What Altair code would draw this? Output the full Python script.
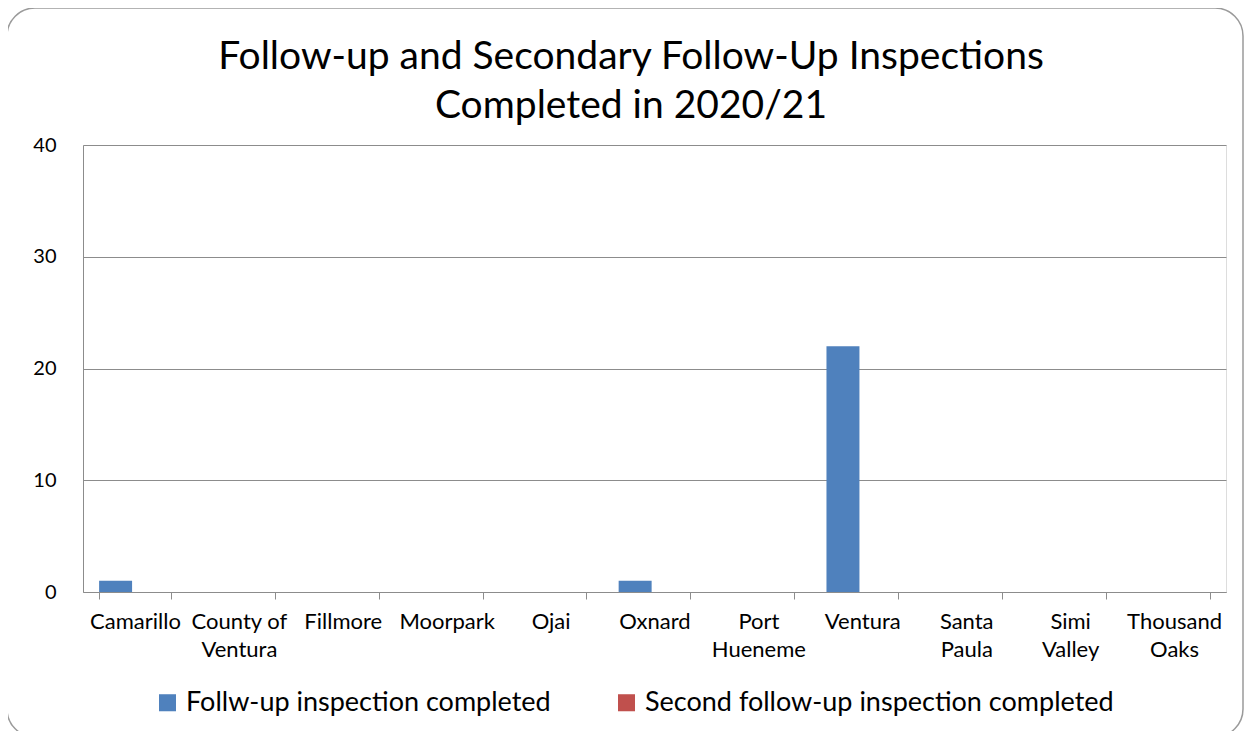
import altair as alt
import pandas as pd

categories = ["Camarillo", "County of Ventura", "Fillmore", "Moorpark", "Ojai",
              "Oxnard", "Port Hueneme", "Ventura", "Santa Paula", "Simi Valley",
              "Thousand Oaks"]
followup = [1, 0, 0, 0, 0, 1, 0, 22, 0, 0, 0]
second_followup = [0, 0, 0, 0, 0, 0, 0, 0, 0, 0, 0]
series_names = ["Follw-up inspection completed", "Second follow-up inspection completed"]
series_colors = ["#4F81BD", "#C0504D"]
y_ticks = [0, 10, 20, 30, 40]
title_lines = ["Follow-up and Secondary Follow-Up Inspections", "Completed in 2020/21"]

rows = []
for c, a, b in zip(categories, followup, second_followup):
    rows.append({"city": c, "series": series_names[0], "value": a})
    rows.append({"city": c, "series": series_names[1], "value": b})
df = pd.DataFrame(rows)

FONT = "Lato"
W, H = 1143, 447
one = pd.DataFrame({"k": [0]})

border = alt.Chart(one).mark_rect(
    fillOpacity=0, stroke="#9a9a9a", strokeWidth=1.5, cornerRadius=28
).encode(
    x=alt.value(-76), x2=alt.value(1160), y=alt.value(-137), y2=alt.value(592)
)

title = alt.Chart(one).mark_text(
    text=title_lines, fontSize=39, font=FONT, color="#000000",
    align="center", baseline="alphabetic", lineHeight=49
).encode(x=alt.value(548), y=alt.value(-76))

bars = alt.Chart(df).mark_bar().encode(
    x=alt.X("city:N", sort=categories,
            scale=alt.Scale(paddingInner=0.31, paddingOuter=0.155),
            axis=alt.Axis(title=None, labelAngle=0, labelFontSize=22,
                          labelColor="#000000", labelFont=FONT,
                          labelLineHeight=28, labelPadding=12,
                          labelExpr="datum.label == 'County of Ventura' ? ['County of', 'Ventura'] : split(datum.label, ' ')",
                          tickBand="extent", ticks=True, tickSize=7,
                          tickColor="#8c8c8c", domainColor="#8c8c8c",
                          labelBaseline="top")),
    xOffset=alt.XOffset("series:N", sort=series_names,
                        scale=alt.Scale(paddingInner=0, paddingOuter=0.087, align=0)),
    y=alt.Y("value:Q", scale=alt.Scale(domain=[0, 40]),
            axis=alt.Axis(title=None, values=y_ticks, labelFontSize=20,
                          labelFont=FONT, labelColor="#000000",
                          ticks=False, labelPadding=27, grid=True,
                          gridColor="#8c8c8c", domainColor="#8c8c8c")),
    color=alt.Color("series:N", sort=series_names,
                    scale=alt.Scale(domain=series_names, range=series_colors),
                    legend=alt.Legend(title=None, orient="none",
                                      direction="horizontal",
                                      legendX=71, legendY=544,
                                      symbolType="square", symbolSize=290,
                                      symbolStrokeWidth=0, labelLimit=0,
                                      labelFontSize=27, labelFont=FONT,
                                      labelColor="#000000", columnPadding=62,
                                      labelOffset=5)),
)

chart = alt.layer(border, title, bars).properties(
    width=W, height=H,
    autosize=alt.AutoSizeParams(type="none"),
    padding={"left": 75, "top": 137, "right": 19, "bottom": 139},
).configure_view(stroke=None).configure(background="white")

chart.save("out.html", embed_options={"renderer": "svg", "actions": False})
